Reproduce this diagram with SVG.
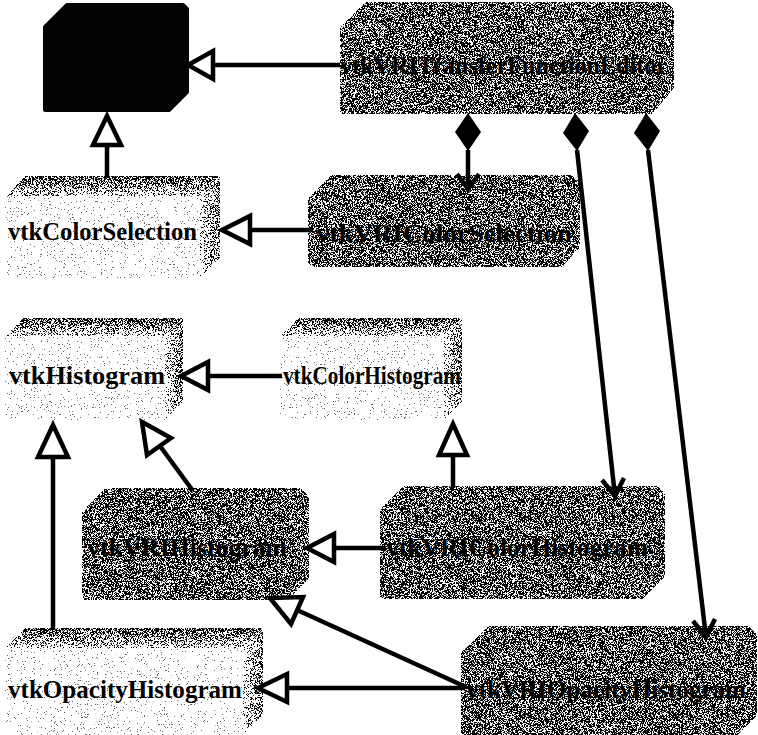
<svg xmlns="http://www.w3.org/2000/svg" width="758" height="735" viewBox="0 0 758 735">
<defs>
<style>
.lbl{font-family:"Liberation Serif","Times New Roman",serif;font-weight:bold;font-size:26px;fill:#000}
.dk{fill:#484848;stroke:#484848;stroke-width:4;stroke-linejoin:round}
.blk{fill:#030303;stroke:#030303;stroke-width:4;stroke-linejoin:round}
.front{fill:#f4f4f4}
.top{fill:url(#gTop)}
.side{fill:url(#gSide)}
.ln{stroke:#000;stroke-width:4.5;fill:none}
.tri{fill:#fff;stroke:#000;stroke-width:4.5;stroke-linejoin:miter}
.dia{fill:#000}
.vh{fill:none;stroke:#000;stroke-width:4.5;stroke-linejoin:miter}
</style>
<linearGradient id="gTop" x1="0" y1="0" x2="0" y2="1">
<stop offset="0" stop-color="#3c3c3c"/>
<stop offset="1" stop-color="#a8a8a8"/>
</linearGradient>
<linearGradient id="gSide" x1="1" y1="0" x2="0" y2="0">
<stop offset="0" stop-color="#5e5e5e"/>
<stop offset="1" stop-color="#bcbcbc"/>
</linearGradient>
<filter id="dither" x="-2%" y="-2%" width="104%" height="104%" color-interpolation-filters="sRGB">
<feTurbulence type="fractalNoise" baseFrequency="1.3" numOctaves="1" seed="5" result="t"/>
<feColorMatrix in="t" type="matrix" values="3 0 0 0 -1.08  3 0 0 0 -1.08  3 0 0 0 -1.08  0 0 0 0 1" result="n"/>
<feComposite in="SourceGraphic" in2="n" operator="arithmetic" k1="0" k2="14" k3="-14" k4="1" result="d"/>
<feComposite in="d" in2="SourceAlpha" operator="in"/>
</filter>
</defs>
<rect width="758" height="735" fill="#fff"/>

<g id="vtkBase">
<polygon class="blk" points="45,27 67,5 183,5 187,9 187,92 169,110 45,110"/>
</g>

<g id="vtkVRITransferFunctionEditor">
<polygon class="dk" filter="url(#dither)" points="342,28 366,4 666,4 672,10 672,88 652,112 342,112"/>
<text class="lbl" x="340" y="74" textLength="327" lengthAdjust="spacingAndGlyphs">vtkVRITransferFunctionEditor</text>
</g>

<g id="vtkColorSelection">
<g filter="url(#dither)">
<polygon class="top" points="5,196 25,176 220,176 200,196"/>
<polygon class="side" points="200,196 220,176 220,258 200,278"/>
<rect class="front" x="5" y="196" width="195" height="82"/>
</g>
<text class="lbl" x="8" y="240" textLength="189" lengthAdjust="spacingAndGlyphs">vtkColorSelection</text>
</g>

<g id="vtkVRIColorSelection">
<polygon class="dk" filter="url(#dither)" points="310,199 332,177 572,177 578,183 578,247 562,265 310,265"/>
<text class="lbl" x="316" y="242" textLength="256" lengthAdjust="spacingAndGlyphs">vtkVRIColorSelection</text>
</g>

<g id="vtkHistogram">
<g filter="url(#dither)">
<polygon class="top" points="5,336 23,318 183,318 165,336"/>
<polygon class="side" points="165,336 183,318 183,402 165,420"/>
<rect class="front" x="5" y="336" width="160" height="84"/>
</g>
<text class="lbl" x="9" y="384" textLength="156" lengthAdjust="spacingAndGlyphs">vtkHistogram</text>
</g>

<g id="vtkColorHistogram">
<g filter="url(#dither)">
<polygon class="top" points="280,336 298,318 462,318 444,336"/>
<polygon class="side" points="444,336 462,318 462,402 444,420"/>
<rect class="front" x="280" y="336" width="164" height="84"/>
</g>
<text class="lbl" x="283" y="384" textLength="178" lengthAdjust="spacingAndGlyphs">vtkColorHistogram</text>
</g>

<g id="vtkVRIHistogram">
<polygon class="dk" filter="url(#dither)" points="84,512 106,490 300,490 307,497 307,578 288,598 84,598"/>
<text class="lbl" x="87" y="556" textLength="200" lengthAdjust="spacingAndGlyphs">vtkVRIHistogram</text>
</g>

<g id="vtkVRIColorHistogram">
<polygon class="dk" filter="url(#dither)" points="382,510 404,488 657,488 663,494 663,576 642,597 382,597"/>
<text class="lbl" x="386" y="556" textLength="262" lengthAdjust="spacingAndGlyphs">vtkVRIColorHistogram</text>
</g>

<g id="vtkOpacityHistogram">
<g filter="url(#dither)">
<polygon class="top" points="5,648 25,628 263,628 243,648"/>
<polygon class="side" points="243,648 263,628 263,715 243,735"/>
<rect class="front" x="5" y="648" width="238" height="87"/>
</g>
<text class="lbl" x="8" y="698" textLength="234" lengthAdjust="spacingAndGlyphs">vtkOpacityHistogram</text>
</g>

<g id="vtkVRIOpacityHistogram">
<polygon class="dk" filter="url(#dither)" points="463,653 489,628 748,628 755,635 755,715 737,733 463,733"/>
<text class="lbl" x="466" y="698" textLength="280" lengthAdjust="spacingAndGlyphs">vtkVRIOpacityHistogram</text>
</g>

<g id="connectors">
<line class="ln" x1="340" y1="65" x2="213" y2="65"/>
<polygon class="tri" points="188,65 213,51 213,79"/>
<line class="ln" x1="107" y1="178" x2="107" y2="145"/>
<polygon class="tri" points="107,116 93,145 121,145"/>
<line class="ln" x1="312" y1="230" x2="250" y2="230"/>
<polygon class="tri" points="222,230 250,216 250,244"/>
<line class="ln" x1="468" y1="150" x2="468" y2="189"/>
<polygon class="dia" points="468,113 481,132 468,151 455,132"/>
<polyline class="vh" points="457,174 468,189 479,174"/>
<line class="ln" x1="577" y1="150" x2="615" y2="496"/>
<polygon class="dia" points="575,113 589,131 577,151 563,133"/>
<polyline class="vh" points="602,480 615,496 624,478"/>
<line class="ln" x1="648" y1="150" x2="706" y2="637"/>
<polygon class="dia" points="646,113 660,131 648,151 634,133"/>
<polyline class="vh" points="693,621 706,637 715,619"/>
<line class="ln" x1="282" y1="376" x2="208" y2="376"/>
<polygon class="tri" points="181,376 208,362 208,390"/>
<line class="ln" x1="193" y1="491" x2="160" y2="446"/>
<polygon class="tri" points="142,422 147,455 171,438"/>
<line class="ln" x1="453" y1="488" x2="453" y2="455"/>
<polygon class="tri" points="453,424 439,455 467,455"/>
<line class="ln" x1="386" y1="548" x2="334" y2="548"/>
<polygon class="tri" points="307,548 334,534 334,562"/>
<line class="ln" x1="53" y1="630" x2="53" y2="457"/>
<polygon class="tri" points="53,425 38,457 68,457"/>
<line class="ln" x1="465" y1="688" x2="287" y2="688"/>
<polygon class="tri" points="258,688 287,674 287,702"/>
<line class="ln" x1="466" y1="687" x2="297" y2="610"/>
<polygon class="tri" points="270,598 291,624 303,597"/>
</g>
</svg>
